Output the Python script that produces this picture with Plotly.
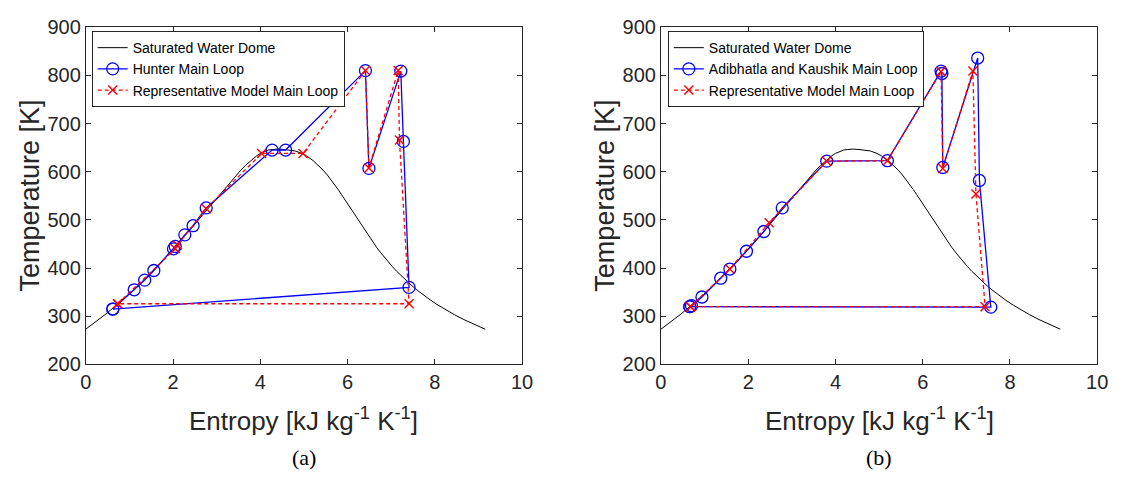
import plotly.graph_objects as go

# Saturated water dome (entropy kJ/kg/K vs temperature K)
dome_s = [0.0000, 0.1511, 0.2965, 0.4368, 0.5724, 0.7038, 0.8313, 0.9551, 1.0756, 1.1929,
          1.3072, 1.4188, 1.5279, 1.6346, 1.7392, 1.8418, 1.9426, 2.0417, 2.1392, 2.2355,
          2.3305, 2.4245, 2.5177, 2.6101, 2.7020, 2.7935, 2.8849, 2.9765, 3.0685, 3.1612,
          3.2552, 3.3510, 3.4494, 3.5518, 3.6601, 3.7784, 3.9167, 4.0014, 4.1112, 4.1900,
          4.2700, 4.4070,
          4.5400, 4.6300, 4.8012, 4.9497, 5.0536, 5.2110, 5.3356, 5.4422, 5.5372, 5.6244,
          5.7059, 5.7834, 5.8579, 5.9304, 6.0016, 6.0721, 6.1423, 6.2128, 6.2840, 6.3563,
          6.4302, 6.5059, 6.5840, 6.6650, 6.7491, 6.8371, 6.9293, 7.0264, 7.1291, 7.2381,
          7.3541, 7.4781, 7.6111, 7.7540, 7.9081, 8.0748, 8.2557, 8.4520, 8.6661, 8.8999,
          9.1556]
dome_T = [273.16, 283.15, 293.15, 303.15, 313.15, 323.15, 333.15, 343.15, 353.15, 363.15,
          373.15, 383.15, 393.15, 403.15, 413.15, 423.15, 433.15, 443.15, 453.15, 463.15,
          473.15, 483.15, 493.15, 503.15, 513.15, 523.15, 533.15, 543.15, 553.15, 563.15,
          573.15, 583.15, 593.15, 603.15, 613.15, 623.15, 633.15, 638.15, 643.15, 645.15,
          646.15, 647.10,
          646.15, 645.15, 643.15, 638.15, 633.15, 623.15, 613.15, 603.15, 593.15, 583.15,
          573.15, 563.15, 553.15, 543.15, 533.15, 523.15, 513.15, 503.15, 493.15, 483.15,
          473.15, 463.15, 453.15, 443.15, 433.15, 423.15, 413.15, 403.15, 393.15, 383.15,
          373.15, 363.15, 353.15, 343.15, 333.15, 323.15, 313.15, 303.15, 293.15, 283.15,
          273.16]

# (a) Hunter main loop
hunter_s = [0.62, 1.11, 1.35, 1.56, 2.01, 2.05, 2.27, 2.46, 2.76, 4.27, 4.58, 6.41, 6.49, 7.22, 7.28, 7.41, 0.62]
hunter_T = [315, 355, 375, 395, 440, 445, 469, 488, 525, 645, 645, 810, 607, 809, 663, 360, 315]

# (a) Representative model main loop
repA_s = [0.73, 2.05, 2.10, 2.76, 4.03, 4.98, 6.41, 6.49, 7.16, 7.19, 7.41, 0.73]
repA_T = [326, 440, 448, 523, 638, 638, 810, 608, 810, 666, 326, 326]

# (b) Adibhatla and Kaushik main loop
adib_s = [0.66, 0.70, 0.94, 1.37, 1.58, 1.96, 2.36, 2.78, 3.80, 5.19, 6.42, 6.44, 6.46, 7.26, 7.30, 7.56, 0.66]
adib_T = [320, 322, 340, 379, 398, 435, 476, 525, 622, 623, 809, 804, 609, 836, 582, 319, 320]

# (b) Representative model main loop
repB_s = [0.68, 1.58, 2.48, 3.80, 5.19, 6.42, 6.46, 7.15, 7.22, 7.43, 0.68]
repB_T = [320, 398, 494, 622, 623, 808, 607, 809, 554, 320, 320]

x_ticks = [0, 2, 4, 6, 8, 10]
y_ticks = [200, 300, 400, 500, 600, 700, 800, 900]

W, H = 1123, 492
FONT = "Liberation Sans"
AX = "#262626"

def px(x):
    return x / W

def py(y):
    return 1 - y / H

fig = go.Figure()

def add_panel(n, loop_s, loop_T, loop_name, rep_s, rep_T, leg):
    xa = "x" if n == 1 else "x2"
    ya = "y" if n == 1 else "y2"
    fig.add_trace(go.Scatter(x=dome_s, y=dome_T, mode="lines", name="Saturated Water Dome",
                             line=dict(color="black", width=1), xaxis=xa, yaxis=ya, legend=leg))
    fig.add_trace(go.Scatter(x=loop_s, y=loop_T, mode="lines+markers", name=loop_name,
                             line=dict(color="#0000ff", width=1.3),
                             marker=dict(symbol="circle-open", size=12, color="#0000ff",
                                         line=dict(width=1.3, color="#0000ff")),
                             xaxis=xa, yaxis=ya, legend=leg))
    fig.add_trace(go.Scatter(x=rep_s, y=rep_T, mode="lines+markers", name="Representative Model Main Loop",
                             line=dict(color="#ff0000", width=1.3, dash="4px,3px"),
                             marker=dict(symbol="x-thin-open", size=9, color="#ff0000",
                                         line=dict(width=1.4, color="#ff0000")),
                             xaxis=xa, yaxis=ya, legend=leg))

add_panel(1, hunter_s, hunter_T, "Hunter Main Loop", repA_s, repA_T, "legend")
add_panel(2, adib_s, adib_T, "Adibhatla and Kaushik Main Loop", repB_s, repB_T, "legend2")

axis_common = dict(showgrid=False, zeroline=False, showline=True, linecolor=AX, linewidth=1,
                   mirror="ticks", ticks="inside", ticklen=5, tickwidth=1, tickcolor=AX,
                   tickfont=dict(family=FONT, size=20, color=AX))

L0, L1 = 81, 524
R0, R1 = 665, 1108
T0, B0 = 17, 370

leg_common = dict(xanchor="left", yanchor="top",
                  font=dict(family=FONT, size=14, color="black"),
                  bgcolor="white", bordercolor=AX, borderwidth=1, tracegroupgap=0, itemwidth=30)

fig.update_layout(
    width=W, height=H, autosize=False,
    margin=dict(l=0, r=0, t=0, b=0),
    paper_bgcolor="white", plot_bgcolor="white",
    xaxis=dict(domain=[px(L0), px(L1)], range=[0, 10], tickvals=x_ticks, anchor="y", **axis_common),
    yaxis=dict(domain=[py(B0), py(T0)], range=[200, 900], tickvals=y_ticks, anchor="x", **axis_common),
    xaxis2=dict(domain=[px(R0), px(R1)], range=[0, 10], tickvals=x_ticks, anchor="y2", **axis_common),
    yaxis2=dict(domain=[py(B0), py(T0)], range=[200, 900], tickvals=y_ticks, anchor="x2", **axis_common),
    legend=dict(x=px(87), y=py(21), **leg_common),
    legend2=dict(x=px(672), y=py(21), **leg_common),
    showlegend=True,
)

xlabel = "Entropy [kJ kg<sup>-1</sup> K<sup>-1</sup>]"
ann = []
for c0, c1, cap in [(L0, L1, "(a)"), (R0, R1, "(b)")]:
    cx = (c0 + c1) / 2
    ann.append(dict(x=px(cx), y=py(428), xref="paper", yref="paper", text=xlabel, showarrow=False,
                    xanchor="center", yanchor="middle", font=dict(family=FONT, size=26, color=AX)))
    ann.append(dict(x=px(c0 - 57), y=py((T0 + B0) / 2), xref="paper", yref="paper", text="Temperature [K]",
                    showarrow=False, textangle=-90, xanchor="center", yanchor="middle",
                    font=dict(family=FONT, size=27, color=AX)))
    ann.append(dict(x=px(cx), y=py(467), xref="paper", yref="paper", text=cap, showarrow=False,
                    xanchor="center", yanchor="middle", font=dict(family="Liberation Serif", size=22, color="black")))
fig.update_layout(annotations=ann)

fig.write_html("out.html")
